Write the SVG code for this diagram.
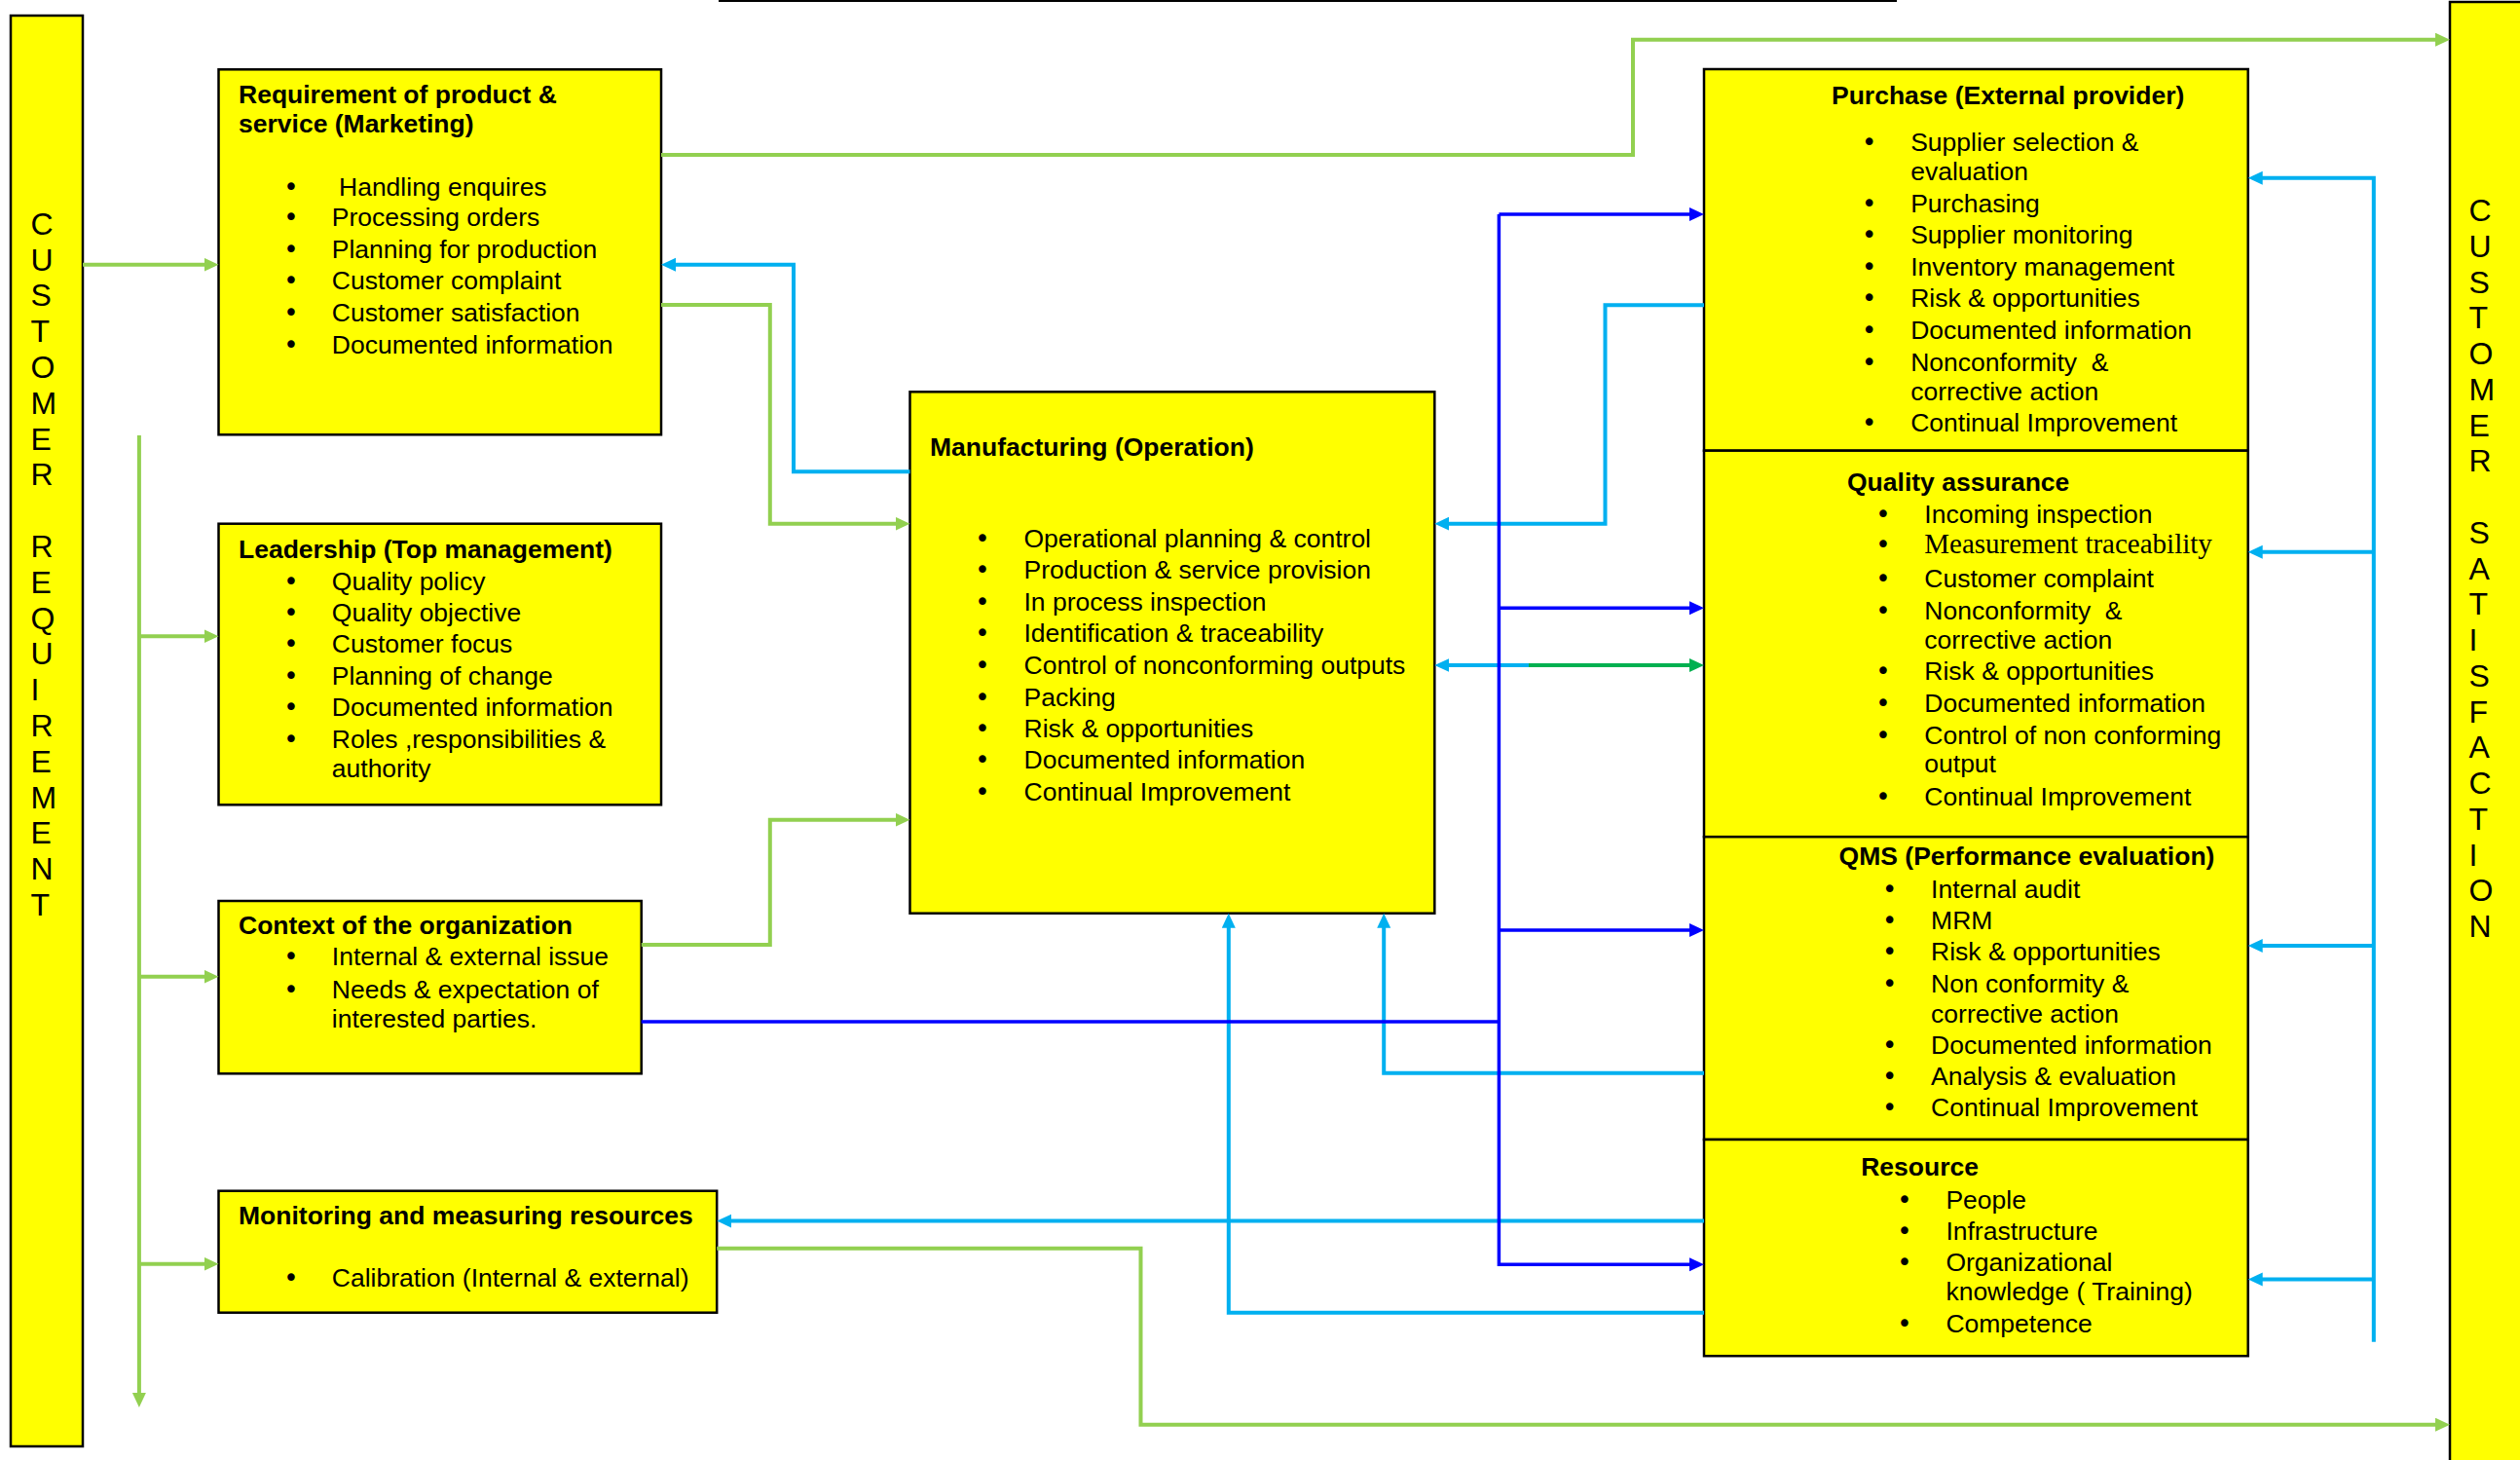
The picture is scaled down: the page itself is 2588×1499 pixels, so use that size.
<svg xmlns="http://www.w3.org/2000/svg" width="2588" height="1499" viewBox="0 0 2588 1499">
<style>
.box{fill:#FFFF00;stroke:#000;stroke-width:2.5}
.t{font-family:"Liberation Sans",Arial,sans-serif;font-size:26.5px;fill:#000}
.b{font-weight:bold}
.m{text-anchor:middle;font-family:"DejaVu Sans",sans-serif;font-size:26px}
.v{font-family:"Liberation Sans",Arial,sans-serif;font-size:32px;fill:#000}
.sf{font-family:"Liberation Serif","Times New Roman",serif;font-size:29px}
.g{stroke:#92D050;stroke-width:4;fill:none}
.dg{stroke:#00B050;stroke-width:4;fill:none}
.lb{stroke:#00B0F0;stroke-width:4;fill:none}
.db{stroke:#0000FF;stroke-width:3.5;fill:none}
</style>
<defs>
<marker id="ag" markerUnits="userSpaceOnUse" markerWidth="16" markerHeight="15" refX="7" refY="7" orient="auto"><path d="M0,0 L15,7 L0,14 z" fill="#92D050"/></marker>
<marker id="adg" markerUnits="userSpaceOnUse" markerWidth="16" markerHeight="15" refX="7" refY="7" orient="auto"><path d="M0,0 L15,7 L0,14 z" fill="#00B050"/></marker>
<marker id="alb" markerUnits="userSpaceOnUse" markerWidth="16" markerHeight="15" refX="7" refY="7" orient="auto"><path d="M0,0 L15,7 L0,14 z" fill="#00B0F0"/></marker>
<marker id="adb" markerUnits="userSpaceOnUse" markerWidth="16" markerHeight="15" refX="7" refY="7" orient="auto"><path d="M0,0 L15,7 L0,14 z" fill="#0000FF"/></marker>
</defs>
<rect width="2588" height="1499" fill="#fff"/>
<line x1="738" y1="1" x2="1948" y2="1" stroke="#000" stroke-width="2"/>

<g id="customer-requirement">
<rect class="box" x="11" y="16" width="74" height="1469"/>
<text class="v"><tspan x="31.5" y="240.7">C</tspan><tspan x="31.5" y="277.5">U</tspan><tspan x="31.5" y="314.3">S</tspan><tspan x="31.5" y="351.1">T</tspan><tspan x="31.5" y="387.9">O</tspan><tspan x="31.5" y="424.7">M</tspan><tspan x="31.5" y="461.5">E</tspan><tspan x="31.5" y="498.3">R</tspan><tspan x="31.5" y="571.9">R</tspan><tspan x="31.5" y="608.7">E</tspan><tspan x="31.5" y="645.5">Q</tspan><tspan x="31.5" y="682.3">U</tspan><tspan x="31.5" y="719.1">I</tspan><tspan x="31.5" y="755.9">R</tspan><tspan x="31.5" y="792.7">E</tspan><tspan x="31.5" y="829.5">M</tspan><tspan x="31.5" y="866.3">E</tspan><tspan x="31.5" y="903.1">N</tspan><tspan x="31.5" y="939.9">T</tspan></text>
</g>

<g id="customer-satisfaction">
<rect class="box" x="2516" y="2" width="90" height="1510"/>
<text class="v"><tspan x="2535.5" y="227">C</tspan><tspan x="2535.5" y="263.75">U</tspan><tspan x="2535.5" y="300.5">S</tspan><tspan x="2535.5" y="337.25">T</tspan><tspan x="2535.5" y="374">O</tspan><tspan x="2535.5" y="410.75">M</tspan><tspan x="2535.5" y="447.5">E</tspan><tspan x="2535.5" y="484.25">R</tspan><tspan x="2535.5" y="557.75">S</tspan><tspan x="2535.5" y="594.5">A</tspan><tspan x="2535.5" y="631.25">T</tspan><tspan x="2535.5" y="668">I</tspan><tspan x="2535.5" y="704.75">S</tspan><tspan x="2535.5" y="741.5">F</tspan><tspan x="2535.5" y="778.25">A</tspan><tspan x="2535.5" y="815">C</tspan><tspan x="2535.5" y="851.75">T</tspan><tspan x="2535.5" y="888.5">I</tspan><tspan x="2535.5" y="925.25">O</tspan><tspan x="2535.5" y="962">N</tspan></text>
</g>

<g id="marketing">
<rect class="box" x="224.5" y="71.3" width="454.5" height="375"/>
<text class="t b" x="245" y="106">Requirement of product &amp;</text>
<text class="t b" x="245" y="136">service (Marketing)</text>
<text class="t m"><tspan x="299" y="200.7">•</tspan><tspan x="299" y="232.3">•</tspan><tspan x="299" y="265">•</tspan><tspan x="299" y="297.3">•</tspan><tspan x="299" y="330">•</tspan><tspan x="299" y="362.7">•</tspan></text>
<text class="t" x="348" y="200.7">Handling enquires</text>
<text class="t" x="340.8" y="232.3">Processing orders</text>
<text class="t" x="340.8" y="265">Planning for production</text>
<text class="t" x="340.8" y="297.3">Customer complaint</text>
<text class="t" x="340.8" y="330">Customer satisfaction</text>
<text class="t" x="340.8" y="362.7">Documented information</text>
</g>

<g id="leadership">
<rect class="box" x="224.5" y="537.7" width="454.5" height="288.6"/>
<text class="t b" x="245" y="572.7">Leadership (Top management)</text>
<text class="t m"><tspan x="299" y="605.7">•</tspan><tspan x="299" y="637.7">•</tspan><tspan x="299" y="670">•</tspan><tspan x="299" y="702.7">•</tspan><tspan x="299" y="735">•</tspan><tspan x="299" y="767.7">•</tspan></text>
<text class="t" x="340.8" y="605.7">Quality policy</text>
<text class="t" x="340.8" y="637.7">Quality objective</text>
<text class="t" x="340.8" y="670">Customer focus</text>
<text class="t" x="340.8" y="702.7">Planning of change</text>
<text class="t" x="340.8" y="735">Documented information</text>
<text class="t" x="340.8" y="767.7">Roles ,responsibilities &amp;</text>
<text class="t" x="340.8" y="797.7">authority</text>
</g>

<g id="context">
<rect class="box" x="224.5" y="925" width="434.2" height="177.3"/>
<text class="t b" x="245" y="959.3">Context of the organization</text>
<text class="t m"><tspan x="299" y="991">•</tspan><tspan x="299" y="1025">•</tspan></text>
<text class="t" x="340.8" y="991">Internal &amp; external issue</text>
<text class="t" x="340.8" y="1025">Needs &amp; expectation of</text>
<text class="t" x="340.8" y="1055">interested parties.</text>
</g>

<g id="monitoring">
<rect class="box" x="224.5" y="1222.7" width="511.7" height="125"/>
<text class="t b" x="245" y="1257.3">Monitoring and measuring resources</text>
<text class="t m" x="299" y="1320.7">•</text>
<text class="t" x="340.8" y="1320.7">Calibration (Internal &amp; external)</text>
</g>

<g id="manufacturing">
<rect class="box" x="934.5" y="402.3" width="538.8" height="535.4"/>
<text class="t b" x="955" y="467.7">Manufacturing (Operation)</text>
<text class="t m"><tspan x="1009" y="561.7">•</tspan><tspan x="1009" y="594.3">•</tspan><tspan x="1009" y="626.7">•</tspan><tspan x="1009" y="659">•</tspan><tspan x="1009" y="691.7">•</tspan><tspan x="1009" y="725">•</tspan><tspan x="1009" y="756.7">•</tspan><tspan x="1009" y="789">•</tspan><tspan x="1009" y="821.7">•</tspan></text>
<text class="t" x="1051.5" y="561.7">Operational planning &amp; control</text>
<text class="t" x="1051.5" y="594.3">Production &amp; service provision</text>
<text class="t" x="1051.5" y="626.7">In process inspection</text>
<text class="t" x="1051.5" y="659">Identification &amp; traceability</text>
<text class="t" x="1051.5" y="691.7">Control of nonconforming outputs</text>
<text class="t" x="1051.5" y="725">Packing</text>
<text class="t" x="1051.5" y="756.7">Risk &amp; opportunities</text>
<text class="t" x="1051.5" y="789">Documented information</text>
<text class="t" x="1051.5" y="821.7">Continual Improvement</text>
</g>

<g id="purchase">
<rect class="box" x="1750" y="71" width="558.7" height="391.7"/>
<text class="t b" x="1881" y="106.7">Purchase (External provider)</text>
<text class="t m"><tspan x="1919.7" y="155">•</tspan><tspan x="1919.7" y="218.3">•</tspan><tspan x="1919.7" y="250">•</tspan><tspan x="1919.7" y="283.3">•</tspan><tspan x="1919.7" y="315">•</tspan><tspan x="1919.7" y="348.3">•</tspan><tspan x="1919.7" y="380.7">•</tspan><tspan x="1919.7" y="443.3">•</tspan></text>
<text class="t" x="1962.2" y="155">Supplier selection &amp;</text>
<text class="t" x="1962.2" y="185">evaluation</text>
<text class="t" x="1962.2" y="218.3">Purchasing</text>
<text class="t" x="1962.2" y="250">Supplier monitoring</text>
<text class="t" x="1962.2" y="283.3">Inventory management</text>
<text class="t" x="1962.2" y="315">Risk &amp; opportunities</text>
<text class="t" x="1962.2" y="348.3">Documented information</text>
<text class="t" x="1962.2" y="380.7" xml:space="preserve">Nonconformity  &amp;</text>
<text class="t" x="1962.2" y="410.7">corrective action</text>
<text class="t" x="1962.2" y="443.3">Continual Improvement</text>
</g>

<g id="quality-assurance">
<rect class="box" x="1750" y="462.7" width="558.7" height="396.5"/>
<text class="t b" x="1897" y="504">Quality assurance</text>
<text class="t m"><tspan x="1933.9" y="537.3">•</tspan><tspan x="1933.9" y="568.3">•</tspan><tspan x="1933.9" y="603.3">•</tspan><tspan x="1933.9" y="636">•</tspan><tspan x="1933.9" y="698.3">•</tspan><tspan x="1933.9" y="731">•</tspan><tspan x="1933.9" y="764">•</tspan><tspan x="1933.9" y="826.7">•</tspan></text>
<text class="t" x="1976.3" y="537.3">Incoming inspection</text>
<text class="t sf" x="1976.3" y="568.3">Measurement traceability</text>
<text class="t" x="1976.3" y="603.3">Customer complaint</text>
<text class="t" x="1976.3" y="636" xml:space="preserve">Nonconformity  &amp;</text>
<text class="t" x="1976.3" y="666">corrective action</text>
<text class="t" x="1976.3" y="698.3">Risk &amp; opportunities</text>
<text class="t" x="1976.3" y="731">Documented information</text>
<text class="t" x="1976.3" y="764">Control of non conforming</text>
<text class="t" x="1976.3" y="793.3">output</text>
<text class="t" x="1976.3" y="826.7">Continual Improvement</text>
</g>

<g id="qms">
<rect class="box" x="1750" y="859.2" width="558.7" height="310.8"/>
<text class="t b" x="1888.6" y="888">QMS (Performance evaluation)</text>
<text class="t m"><tspan x="1940.7" y="922.4">•</tspan><tspan x="1940.7" y="954.3">•</tspan><tspan x="1940.7" y="985.8">•</tspan><tspan x="1940.7" y="1018.9">•</tspan><tspan x="1940.7" y="1081.8">•</tspan><tspan x="1940.7" y="1113.7">•</tspan><tspan x="1940.7" y="1146.4">•</tspan></text>
<text class="t" x="1983.1" y="922.4">Internal audit</text>
<text class="t" x="1983.1" y="954.3">MRM</text>
<text class="t" x="1983.1" y="985.8">Risk &amp; opportunities</text>
<text class="t" x="1983.1" y="1018.9">Non conformity &amp;</text>
<text class="t" x="1983.1" y="1049.9">corrective action</text>
<text class="t" x="1983.1" y="1081.8">Documented information</text>
<text class="t" x="1983.1" y="1113.7">Analysis &amp; evaluation</text>
<text class="t" x="1983.1" y="1146.4">Continual Improvement</text>
</g>

<g id="resource">
<rect class="box" x="1750" y="1170" width="558.7" height="222.2"/>
<text class="t b" x="1911.2" y="1206.8">Resource</text>
<text class="t m"><tspan x="1956" y="1241.1">•</tspan><tspan x="1956" y="1273">•</tspan><tspan x="1956" y="1305.3">•</tspan><tspan x="1956" y="1368.2">•</tspan></text>
<text class="t" x="1998.4" y="1241.1">People</text>
<text class="t" x="1998.4" y="1273">Infrastructure</text>
<text class="t" x="1998.4" y="1305.3">Organizational</text>
<text class="t" x="1998.4" y="1335.1">knowledge ( Training)</text>
<text class="t" x="1998.4" y="1368.2">Competence</text>
</g>

<g id="connectors">
<path class="g" d="M85,271.7 H216.5" marker-end="url(#ag)"/>
<path class="g" d="M142.9,447 V1437" marker-end="url(#ag)"/>
<path class="g" d="M142.9,653.3 H216.5" marker-end="url(#ag)"/>
<path class="g" d="M142.9,1002.7 H216.5" marker-end="url(#ag)"/>
<path class="g" d="M142.9,1297.7 H216.5" marker-end="url(#ag)"/>
<path class="g" d="M679,159 H1677 V40.7 H2508" marker-end="url(#ag)"/>
<path class="g" d="M679,313 H790.8 V537.7 H926.5" marker-end="url(#ag)"/>
<path class="g" d="M658.7,970 H790.8 V841.7 H926.5" marker-end="url(#ag)"/>
<path class="g" d="M736.2,1281.7 H1171.5 V1462.7 H2508" marker-end="url(#ag)"/>
<path class="lb" d="M934.5,484.3 H815 V271.7 H687" marker-end="url(#alb)"/>
<path class="lb" d="M1750,313.3 H1648.5 V537.7 H1481.3" marker-end="url(#alb)"/>
<path class="lb" d="M1570,683 H1481.3" marker-end="url(#alb)"/>
<path class="lb" d="M1750,1101.7 H1421.2 V945.7" marker-end="url(#alb)"/>
<path class="lb" d="M1750,1347.7 H1261.8 V945.7" marker-end="url(#alb)"/>
<path class="lb" d="M1750,1253.6 H744.2" marker-end="url(#alb)"/>
<path class="lb" d="M2437.8,1377.7 V182.7 H2316.7" marker-end="url(#alb)"/>
<path class="lb" d="M2437.8,566.7 H2316.7" marker-end="url(#alb)"/>
<path class="lb" d="M2437.8,970.9 H2316.7" marker-end="url(#alb)"/>
<path class="lb" d="M2437.8,1313.6 H2316.7" marker-end="url(#alb)"/>
<path class="dg" d="M1570,683 H1742" marker-end="url(#adg)"/>
<path class="db" d="M658.7,1049 H1539.4" stroke-width="4.5"/>
<path class="db" d="M1539.4,220 V1298.3 H1742" marker-end="url(#adb)"/>
<path class="db" d="M1539.4,220 H1742" marker-end="url(#adb)"/>
<path class="db" d="M1539.4,624.3 H1742" marker-end="url(#adb)"/>
<path class="db" d="M1539.4,955 H1742" marker-end="url(#adb)"/>
</g>
</svg>
